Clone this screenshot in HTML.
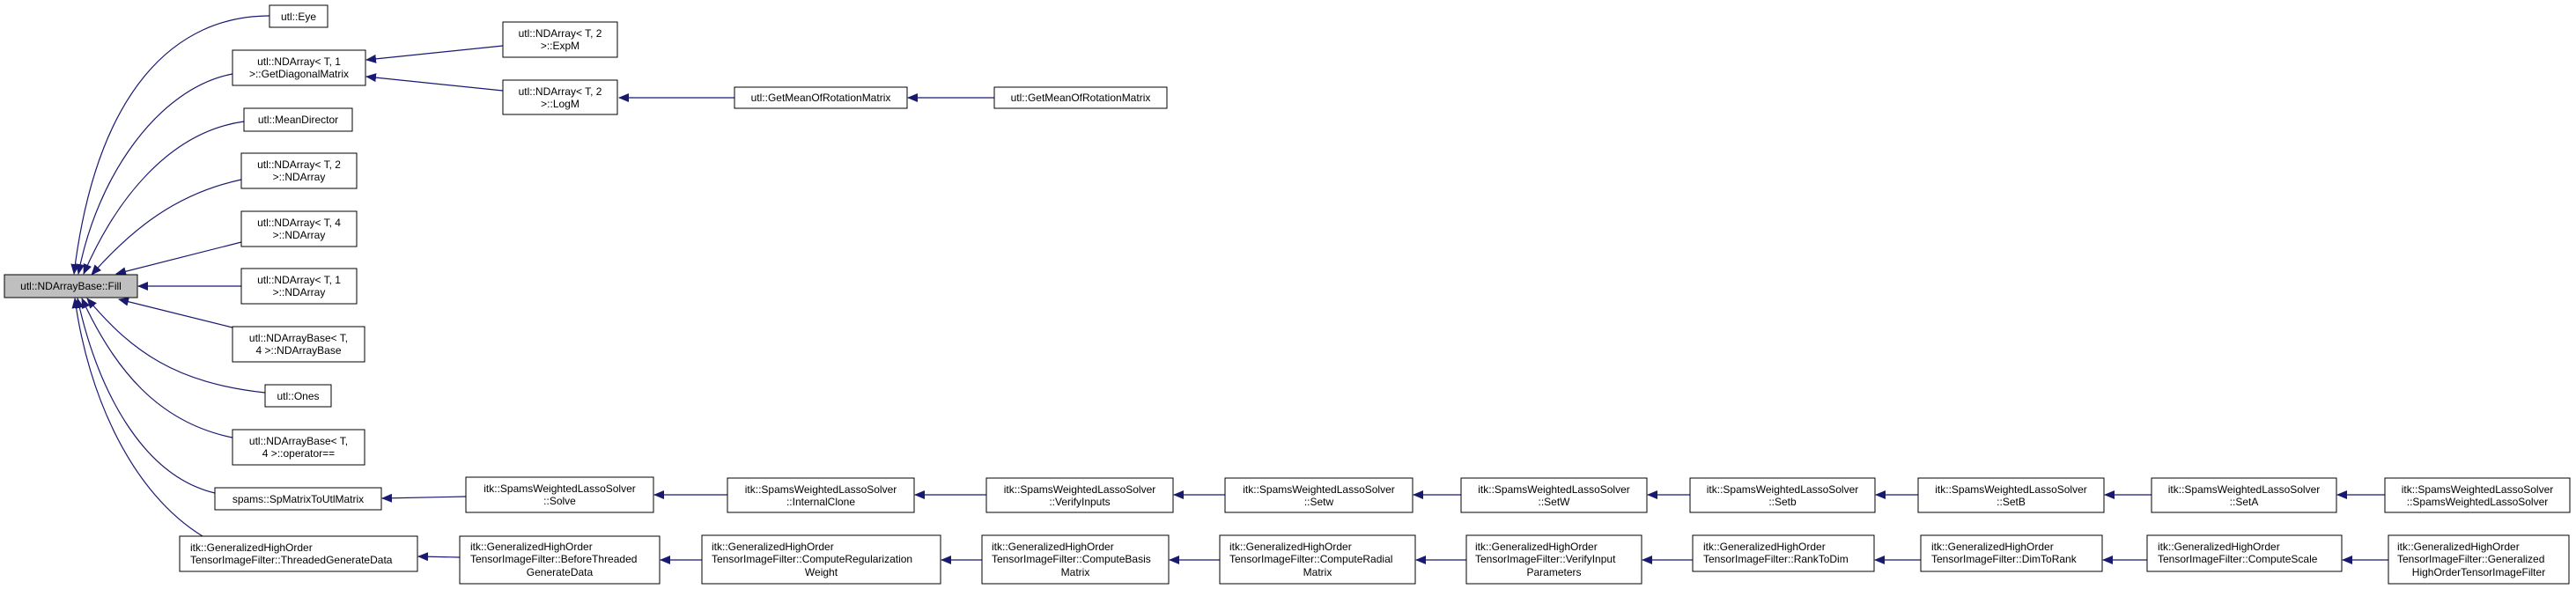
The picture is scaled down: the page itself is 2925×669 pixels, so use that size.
<!DOCTYPE html>
<html><head><meta charset="utf-8"><style>
html,body{margin:0;padding:0;background:#fff;}
svg{display:block;}
text{font-family:"Liberation Sans",Arial,sans-serif;font-size:12px;fill:#000;}
rect{fill:#fff;stroke:#000;stroke-width:1;}
.e{fill:none;stroke:#191970;stroke-width:1.2;}
</style></head><body>
<svg width="2925" height="669" viewBox="0 0 2925 669" xmlns="http://www.w3.org/2000/svg">
<defs><marker id="a" markerWidth="12" markerHeight="10" refX="11" refY="5" orient="auto" markerUnits="userSpaceOnUse"><path d="M0,0 L12,5 L0,10 z" fill="#191970"/></marker></defs>

<path class="e" marker-end="url(#a)" d="M306,18 C200,18 110,100 84,311"/>
<path class="e" marker-end="url(#a)" d="M264,84 C180,100 110,200 89,311"/>
<path class="e" marker-end="url(#a)" d="M277,138 C190,150 130,230 95,311"/>
<path class="e" marker-end="url(#a)" d="M274,204 C200,220 150,260 104,312"/>
<path class="e" marker-end="url(#a)" d="M274,275 L132,311"/>
<path class="e" marker-end="url(#a)" d="M274,325 L157,325"/>
<path class="e" marker-end="url(#a)" d="M264,372 L135,340"/>
<path class="e" marker-end="url(#a)" d="M301,446 C200,435 150,400 99,339"/>
<path class="e" marker-end="url(#a)" d="M264,497 C180,480 130,420 93,339"/>
<path class="e" marker-end="url(#a)" d="M244,560 C160,540 110,440 88,339"/>
<path class="e" marker-end="url(#a)" d="M230,609 C150,560 100,450 85,339"/>

<path class="e" marker-end="url(#a)" d="M571,52 L416,68"/>
<path class="e" marker-end="url(#a)" d="M571,103 L416,87"/>
<path class="e" marker-end="url(#a)" d="M834,111 L703,111"/>
<path class="e" marker-end="url(#a)" d="M1129,111 L1031,111"/>
<path class="e" marker-end="url(#a)" d="M529,564 L434,566"/>
<path class="e" marker-end="url(#a)" d="M826,562 L743,562"/>
<path class="e" marker-end="url(#a)" d="M1120,562 L1039,562"/>
<path class="e" marker-end="url(#a)" d="M1391,562 L1333,562"/>
<path class="e" marker-end="url(#a)" d="M1659,562 L1605,562"/>
<path class="e" marker-end="url(#a)" d="M1919,562 L1871,562"/>
<path class="e" marker-end="url(#a)" d="M2178,562 L2130,562"/>
<path class="e" marker-end="url(#a)" d="M2443,562 L2390,562"/>
<path class="e" marker-end="url(#a)" d="M2708,562 L2654,562"/>
<path class="e" marker-end="url(#a)" d="M522,633 L475,632"/>
<path class="e" marker-end="url(#a)" d="M797,636 L750,636"/>
<path class="e" marker-end="url(#a)" d="M1115,636 L1069,636"/>
<path class="e" marker-end="url(#a)" d="M1385,636 L1328,636"/>
<path class="e" marker-end="url(#a)" d="M1665,636 L1608,636"/>
<path class="e" marker-end="url(#a)" d="M1922,636 L1865,636"/>
<path class="e" marker-end="url(#a)" d="M2181,636 L2129,636"/>
<path class="e" marker-end="url(#a)" d="M2438,636 L2388,636"/>
<path class="e" marker-end="url(#a)" d="M2712,636 L2660,636"/>

<rect x="5" y="312" width="151" height="26" style="fill:#bfbfbf"/>
<text x="80.5" y="329" text-anchor="middle">utl::NDArrayBase::Fill</text>

<rect x="306" y="6" width="66" height="25"/><text x="339" y="23" text-anchor="middle">utl::Eye</text>
<rect x="264" y="57" width="151" height="40"/><text x="339.5" y="74" text-anchor="middle">utl::NDArray&lt; T, 1</text><text x="339.5" y="88" text-anchor="middle">&gt;::GetDiagonalMatrix</text>
<rect x="571" y="25" width="130" height="40"/><text x="636" y="42" text-anchor="middle">utl::NDArray&lt; T, 2</text><text x="636" y="56" text-anchor="middle">&gt;::ExpM</text>
<rect x="571" y="91" width="130" height="39"/><text x="636" y="108" text-anchor="middle">utl::NDArray&lt; T, 2</text><text x="636" y="122" text-anchor="middle">&gt;::LogM</text>
<rect x="834" y="99" width="196" height="24"/><text x="932" y="115" text-anchor="middle">utl::GetMeanOfRotationMatrix</text>
<rect x="1129" y="99" width="196" height="24"/><text x="1227" y="115" text-anchor="middle">utl::GetMeanOfRotationMatrix</text>
<rect x="277" y="123" width="123" height="26"/><text x="338.5" y="140" text-anchor="middle">utl::MeanDirector</text>
<rect x="274" y="174" width="131" height="40"/><text x="339.5" y="191" text-anchor="middle">utl::NDArray&lt; T, 2</text><text x="339.5" y="205" text-anchor="middle">&gt;::NDArray</text>
<rect x="274" y="240" width="131" height="40"/><text x="339.5" y="257" text-anchor="middle">utl::NDArray&lt; T, 4</text><text x="339.5" y="271" text-anchor="middle">&gt;::NDArray</text>
<rect x="274" y="305" width="131" height="40"/><text x="339.5" y="322" text-anchor="middle">utl::NDArray&lt; T, 1</text><text x="339.5" y="336" text-anchor="middle">&gt;::NDArray</text>
<rect x="264" y="371" width="150" height="40"/><text x="339" y="388" text-anchor="middle">utl::NDArrayBase&lt; T,</text><text x="339" y="402" text-anchor="middle">4 &gt;::NDArrayBase</text>
<rect x="301" y="437" width="75" height="25"/><text x="338.5" y="454" text-anchor="middle">utl::Ones</text>
<rect x="264" y="488" width="150" height="40"/><text x="339" y="505" text-anchor="middle">utl::NDArrayBase&lt; T,</text><text x="339" y="519" text-anchor="middle">4 &gt;::operator==</text>
<rect x="244" y="554" width="189" height="25"/><text x="338.5" y="571" text-anchor="middle">spams::SpMatrixToUtlMatrix</text>
<rect x="204" y="609" width="270" height="40"/><text x="216" y="626">itk::GeneralizedHighOrder</text><text x="216" y="640">TensorImageFilter::ThreadedGenerateData</text>

<rect x="529" y="542" width="213" height="40"/><text x="635.5" y="559" text-anchor="middle">itk::SpamsWeightedLassoSolver</text><text x="635.5" y="573" text-anchor="middle">::Solve</text>
<rect x="826" y="543" width="212" height="39"/><text x="932" y="560" text-anchor="middle">itk::SpamsWeightedLassoSolver</text><text x="932" y="574" text-anchor="middle">::InternalClone</text>
<rect x="1120" y="543" width="212" height="39"/><text x="1226" y="560" text-anchor="middle">itk::SpamsWeightedLassoSolver</text><text x="1226" y="574" text-anchor="middle">::VerifyInputs</text>
<rect x="1391" y="543" width="213" height="39"/><text x="1497.5" y="560" text-anchor="middle">itk::SpamsWeightedLassoSolver</text><text x="1497.5" y="574" text-anchor="middle">::Setw</text>
<rect x="1659" y="543" width="211" height="39"/><text x="1764.5" y="560" text-anchor="middle">itk::SpamsWeightedLassoSolver</text><text x="1764.5" y="574" text-anchor="middle">::SetW</text>
<rect x="1919" y="543" width="210" height="39"/><text x="2024" y="560" text-anchor="middle">itk::SpamsWeightedLassoSolver</text><text x="2024" y="574" text-anchor="middle">::Setb</text>
<rect x="2178" y="543" width="211" height="39"/><text x="2283.5" y="560" text-anchor="middle">itk::SpamsWeightedLassoSolver</text><text x="2283.5" y="574" text-anchor="middle">::SetB</text>
<rect x="2443" y="543" width="210" height="39"/><text x="2548" y="560" text-anchor="middle">itk::SpamsWeightedLassoSolver</text><text x="2548" y="574" text-anchor="middle">::SetA</text>
<rect x="2708" y="543" width="210" height="39"/><text x="2813" y="560" text-anchor="middle">itk::SpamsWeightedLassoSolver</text><text x="2813" y="574" text-anchor="middle">::SpamsWeightedLassoSolver</text>

<rect x="522" y="609" width="227" height="54"/><text x="534" y="625">itk::GeneralizedHighOrder</text><text x="534" y="639">TensorImageFilter::BeforeThreaded</text><text x="635.5" y="654" text-anchor="middle">GenerateData</text>
<rect x="797" y="608" width="271" height="55"/><text x="808" y="625">itk::GeneralizedHighOrder</text><text x="808" y="639">TensorImageFilter::ComputeRegularization</text><text x="932.5" y="654" text-anchor="middle">Weight</text>
<rect x="1115" y="608" width="212" height="55"/><text x="1126" y="625">itk::GeneralizedHighOrder</text><text x="1126" y="639">TensorImageFilter::ComputeBasis</text><text x="1221" y="654" text-anchor="middle">Matrix</text>
<rect x="1385" y="608" width="222" height="55"/><text x="1396" y="625">itk::GeneralizedHighOrder</text><text x="1396" y="639">TensorImageFilter::ComputeRadial</text><text x="1496" y="654" text-anchor="middle">Matrix</text>
<rect x="1665" y="608" width="199" height="55"/><text x="1675" y="625">itk::GeneralizedHighOrder</text><text x="1675" y="639">TensorImageFilter::VerifyInput</text><text x="1764.5" y="654" text-anchor="middle">Parameters</text>
<rect x="1922" y="608" width="206" height="41"/><text x="1934" y="625">itk::GeneralizedHighOrder</text><text x="1934" y="639">TensorImageFilter::RankToDim</text>
<rect x="2181" y="608" width="206" height="41"/><text x="2193" y="625">itk::GeneralizedHighOrder</text><text x="2193" y="639">TensorImageFilter::DimToRank</text>
<rect x="2438" y="608" width="221" height="41"/><text x="2450" y="625">itk::GeneralizedHighOrder</text><text x="2450" y="639">TensorImageFilter::ComputeScale</text>
<rect x="2712" y="608" width="205" height="55"/><text x="2722" y="625">itk::GeneralizedHighOrder</text><text x="2722" y="639">TensorImageFilter::Generalized</text><text x="2814.5" y="654" text-anchor="middle">HighOrderTensorImageFilter</text>
</svg>
</body></html>
